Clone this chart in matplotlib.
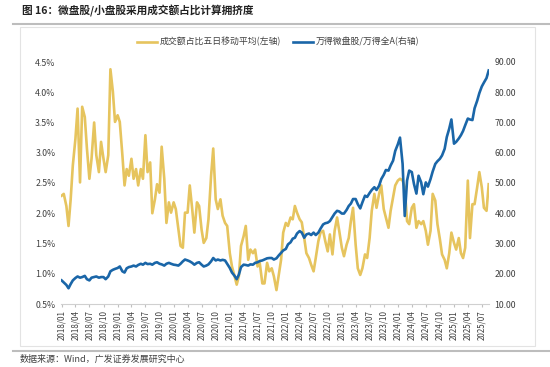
import numpy as np
import pandas as pd
import matplotlib
matplotlib.use("Agg")
import matplotlib.pyplot as plt
import matplotlib.ticker as mticker
from matplotlib.lines import Line2D
from matplotlib.patches import Rectangle

plt.rcParams['font.family'] = ['Noto Sans CJK SC', 'DejaVu Sans']

# semi-monthly samples, 2018/01 .. 2025/08
dates = pd.date_range("2018-01-01", periods=184, freq="SMS")

# 成交额占比五日移动平均 (%), left axis
share = [
    2.29, 2.32, 2.12, 1.79, 2.23, 2.79, 3.23, 3.73, 2.51, 3.76,
    3.59, 3.07, 2.57, 2.90, 3.50, 2.96, 2.68, 3.18, 2.90, 2.68,
    2.96, 4.38, 4.01, 3.51, 3.62, 3.51, 2.96, 2.46, 2.73, 2.62,
    2.90, 2.57, 2.73, 2.46, 2.73, 2.57, 3.29, 2.68, 2.84, 2.00,
    2.23, 2.48, 2.34, 3.10, 2.57, 1.84, 2.18, 2.01, 2.18, 2.07,
    1.73, 1.46, 1.43, 2.01,
    2.01, 2.46, 2.07, 1.68, 2.18, 2.12, 1.73, 1.51, 1.59, 1.90,
    2.62, 3.07, 2.23, 2.07, 2.23, 1.96, 1.84, 1.79, 1.34, 1.12,
    0.96, 0.82, 0.96, 1.46, 1.62, 1.79, 1.23, 1.40, 1.34, 1.40,
    1.12, 1.18, 0.84, 0.84, 1.18, 1.04, 1.09, 0.96, 0.73, 0.96,
    1.23, 1.68, 1.84, 1.79, 1.93, 1.90, 2.12, 2.01, 1.90, 1.85,
    1.59, 1.34, 1.26, 1.15, 1.04, 1.26, 1.54, 1.68, 1.71, 1.54,
    1.37, 1.65, 1.32, 1.71, 1.93, 1.71, 1.43, 1.29, 1.48, 1.59,
    1.87, 2.09, 1.48, 1.09, 0.98, 1.09, 1.32, 1.26, 1.59, 2.04,
    2.32, 2.09, 2.32, 2.46, 2.07, 1.93, 1.76, 2.04, 2.26, 2.46,
    2.54, 2.57, 2.54, 2.43, 1.87, 1.82, 2.09, 2.15, 1.76, 1.87,
    1.82, 1.87, 1.71, 1.48, 1.71, 2.32, 2.21, 1.82, 1.57, 1.32,
    1.23, 1.09, 1.34, 1.68, 1.51, 1.40, 1.59, 1.34, 1.26, 1.43,
    2.54, 1.59, 2.15, 2.15, 2.43, 2.68, 2.43, 2.09, 2.04, 2.48,
]

# 万得微盘股/万得全A, right axis
ratio = [
    17.8, 17.1, 16.3, 15.2, 16.6, 17.8, 18.6, 19.1, 18.7, 18.9,
    19.3, 18.2, 17.8, 18.7, 18.9, 19.1, 18.7, 18.9, 18.9, 18.2,
    19.1, 20.8, 21.3, 21.6, 21.9, 22.4, 20.8, 20.4, 21.8, 22.2,
    22.4, 22.7, 22.4, 22.9, 23.3, 23.0, 23.6, 23.2, 23.3, 23.0,
    23.6, 23.8, 23.3, 23.1, 22.7, 23.3, 23.6, 23.3, 23.0, 22.9,
    22.7, 23.3, 24.1, 24.7,
    24.4, 24.1, 23.6, 23.0, 23.6, 23.8, 23.0, 22.4, 22.7, 23.1,
    24.1, 25.2, 24.4, 24.7, 24.4, 24.6, 24.4, 23.3, 21.9, 20.4,
    19.3, 18.2, 19.7, 22.2, 23.0, 22.9, 22.7, 23.1, 23.0, 23.6,
    23.8, 24.2, 24.4, 24.7, 25.1, 25.2, 25.2, 24.7, 25.1, 26.0,
    26.9, 27.7, 28.2, 29.7, 30.4, 31.6, 31.9, 33.3, 34.1, 33.6,
    31.9, 33.0, 33.3, 32.8, 33.6, 32.8, 33.6, 34.9, 36.3, 36.7,
    36.9, 37.4, 38.8, 39.9, 40.8, 40.6, 39.9, 39.9, 41.1, 42.4,
    43.2, 44.7, 44.7, 43.0, 41.6, 43.6, 45.8, 45.4, 46.7, 47.7,
    48.6, 47.7, 49.1, 51.3, 52.7, 54.3, 54.1, 55.8, 57.4, 60.6,
    62.8, 65.0, 56.3, 39.1, 50.8, 54.1, 53.6, 49.7, 46.5, 52.4,
    50.2, 46.3, 50.2, 48.8, 51.3, 53.8, 56.3, 57.2, 58.0, 59.1,
    61.3, 65.2, 68.0, 71.0, 63.0, 63.6, 64.7, 65.8, 67.2, 69.1,
    71.3, 71.0, 70.8, 74.7, 77.2, 79.7, 81.9, 83.2, 84.7, 87.2,
]

tick_dates = pd.date_range("2018-01-01", "2025-07-01", freq="QS")
tick_labels = [d.strftime("%Y/%m") for d in tick_dates]

yellow = "#E6C45E"
blue = "#1A66A8"
txt = "#404040"

fig = plt.figure(figsize=(5.5, 3.67), dpi=100)
ax = fig.add_axes([61 / 550, 1 - 304 / 367, 428 / 550, 242 / 367])
ax2 = ax.twinx()

ax.plot(dates, share, color=yellow, lw=1.9)
ax2.plot(dates, ratio, color=blue, lw=1.9)

ax.set_ylim(0.5, 4.5)
ax.set_yticks(np.arange(0.5, 4.51, 0.5))
ax.yaxis.set_major_formatter(mticker.FormatStrFormatter("%.1f%%"))
ax2.set_ylim(10, 90)
ax2.set_yticks(np.arange(10, 91, 10))
ax2.yaxis.set_major_formatter(mticker.FormatStrFormatter("%.2f"))

ax.set_xlim(pd.Timestamp("2017-12-28"), dates[-1] + pd.Timedelta(days=2))
ax.set_xticks(tick_dates)
ax.set_xticklabels(tick_labels, rotation=90)

for a in (ax, ax2):
    for s in ("top", "left", "right"):
        a.spines[s].set_visible(False)
    a.spines["bottom"].set_color("#d0d0d0")
    a.tick_params(axis="y", length=0, labelsize=6.3, labelcolor=txt, pad=4)
ax.tick_params(axis="x", length=2.5, color="#c0c0c0", labelsize=5.8, labelcolor=txt, pad=2)
ax2.spines["bottom"].set_visible(False)

handles = [Line2D([], [], color=yellow, lw=1.9), Line2D([], [], color=blue, lw=1.9)]
fig.legend(handles, ["成交额占比五日移动平均(左轴)", "万得微盘股/万得全A(右轴)"],
           loc="center", bbox_to_anchor=(0.506, 1 - 42 / 367), ncol=2, frameon=False,
           fontsize=6.4, labelcolor=txt, handlelength=2.2, handletextpad=0.3,
           columnspacing=1.4)

# title, separators, frame and source
fig.text(22 / 550, 1 - 11 / 367, "图 16：微盘股/小盘股采用成交额占比计算拥挤度",
         fontsize=7.7, fontweight="bold", color="#222222", va="center")
fig.add_artist(Line2D([13 / 550, 1], [1 - 23.5 / 367] * 2, color="#bdbdbd", lw=1.5))
fig.add_artist(Rectangle((20 / 550, 1 - 346 / 367), 515 / 550, 319 / 367,
                         fill=False, ec="#e3e3e3", lw=0.8))
fig.add_artist(Line2D([13 / 550, 1], [1 - 350.5 / 367] * 2, color="#bdbdbd", lw=1.5))
fig.text(20 / 550, 1 - 359 / 367, "数据来源：Wind，广发证券发展研究中心",
         fontsize=6.5, color=txt, va="center")

fig.savefig("out.png", dpi=100)
